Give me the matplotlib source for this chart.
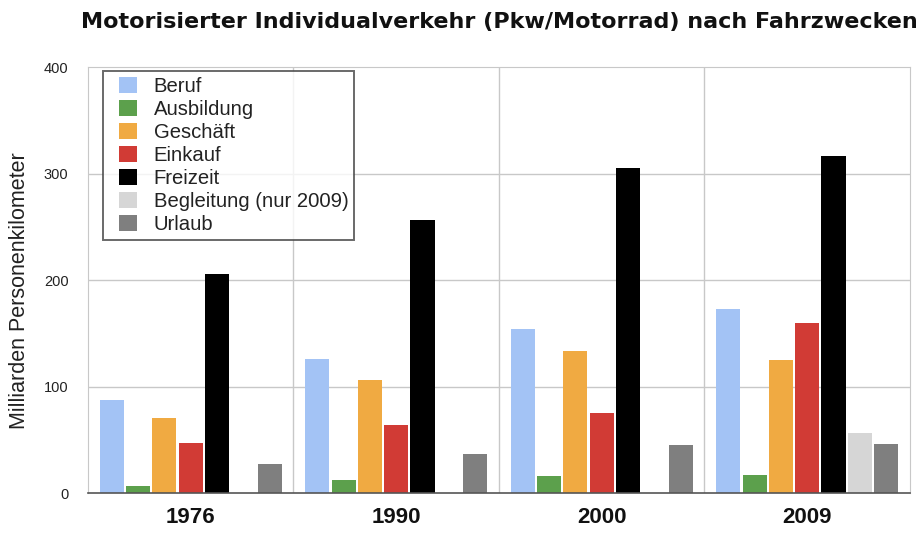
import matplotlib
matplotlib.use("Agg")
import matplotlib.pyplot as plt
import matplotlib.patches as mpatches
from matplotlib.legend_handler import HandlerPatch
import numpy as np

plt.rcParams['font.family'] = ['Liberation Sans', 'DejaVu Sans']

years = ["1976", "1990", "2000", "2009"]
series = ["Beruf", "Ausbildung", "Geschäft", "Einkauf", "Freizeit", "Begleitung (nur 2009)", "Urlaub"]
beruf = [87, 126, 154, 173]
ausbildung = [7, 12, 16, 17]
geschaeft = [70, 106, 133, 125]
einkauf = [47, 64, 75, 160]
freizeit = [206, 256, 305, 317]
begleitung = [np.nan, np.nan, np.nan, 56]
urlaub = [27, 37, 45, 46]
values = [beruf, ausbildung, geschaeft, einkauf, freizeit, begleitung, urlaub]
colors = ["#a3c3f5", "#5ca04c", "#f0aa42", "#d13b35", "#000000", "#d6d6d6", "#7f7f7f"]

fig = plt.figure(figsize=(9.21, 5.33), dpi=100)
ax = fig.add_axes([0.0955, 0.075, 0.8925, 0.799])

x = np.arange(len(years))
pitch = 0.128
width = 0.117
containers = []
for i, (name, vals, c) in enumerate(zip(series, values, colors)):
    bc = ax.bar(x + (i - 3) * pitch, vals, width=width, color=c, label=name, zorder=3)
    containers.append(bc)

ax.set_xlim(-0.5, 3.5)
ax.set_ylim(0, 400)
ax.set_yticks([0, 100, 200, 300, 400])
ax.set_xticks(x)
ax.set_xticklabels(years, fontsize=16, fontweight='bold', color='#111111')
ax.tick_params(axis='x', length=0, pad=10)
ax.tick_params(axis='y', labelsize=10.5, length=0, pad=14, labelcolor='#222222')
for v in [100, 200, 300]:
    ax.axhline(v, color='#c8c8c8', lw=1, zorder=1)
for v in [0.5, 1.5, 2.5]:
    ax.axvline(v, color='#c8c8c8', lw=1, zorder=1)
for s in ['top', 'left', 'right']:
    ax.spines[s].set_color('#c8c8c8')
ax.spines['bottom'].set_color('#555555')
ax.spines['bottom'].set_linewidth(1.2)
ax.spines['bottom'].set_zorder(4)

ax.set_ylabel("Milliarden Personenkilometer", fontsize=15.5, color='#222222')
ax.yaxis.set_label_coords(-0.07, 0.476)


def square_patch(legend, orig_handle, xdescent, ydescent, width, height, fontsize):
    w, h = 13.0, 11.5
    return mpatches.Rectangle((-xdescent + width - w, -ydescent + (height - h) / 2), w, h)


handles = [bc.patches[-1] for bc in containers]
leg = ax.legend(handles, series, loc='upper left', bbox_to_anchor=(0.018, 0.991), fontsize=14.6,
                frameon=True, fancybox=False, edgecolor='#444444',
                handlelength=1.41, handleheight=0.8, handletextpad=0.8,
                labelspacing=0.2, borderpad=0.3, borderaxespad=0,
                handler_map={mpatches.Rectangle: HandlerPatch(patch_func=square_patch)})
leg.get_frame().set_linewidth(1.4)
for t in leg.get_texts():
    t.set_color('#222222')

fig.text(0.542, 0.959, "Motorisierter Individualverkehr (Pkw/Motorrad) nach Fahrzwecken",
         ha='center', va='center', fontsize=16.0, fontweight='bold', family='DejaVu Sans',
         color='#111111')

fig.savefig("out.png", dpi=100)
